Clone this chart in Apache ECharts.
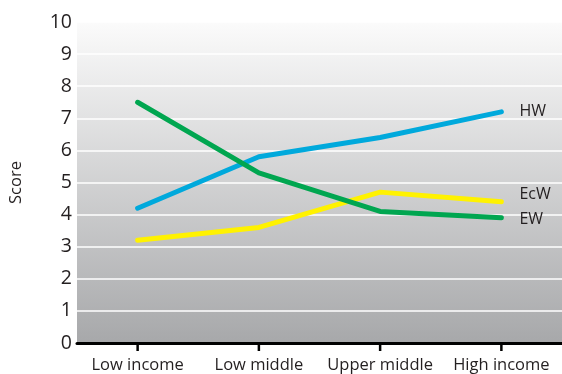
<!DOCTYPE html>
<html><head><meta charset="utf-8">
<script src="https://cdn.jsdelivr.net/npm/echarts@6/dist/echarts.min.js"></script>
<style>html,body{margin:0;padding:0;background:#fff}#c{width:562px;height:374px}</style>
</head><body><div id="c"></div>
<script>
var categories = ["Low income", "Low middle", "Upper middle", "High income"];
var hw = [4.2, 5.8, 6.4, 7.2];
var ecw = [3.2, 3.6, 4.7, 4.4];
var ew = [7.5, 5.3, 4.1, 3.9];
var yTicks = [0, 1, 2, 3, 4, 5, 6, 7, 8, 9, 10];

var font = "Open Sans";
var chart = echarts.init(document.getElementById('c'));
function ser(name, data, color, offY) {
  return {
    name: name, type: 'line', data: data, symbol: 'none',
    lineStyle: {color: color, width: 5, cap: 'round', join: 'round'},
    itemStyle: {color: color},
    endLabel: {show: true, formatter: name, color: '#231f20', fontFamily: font, fontSize: 16, offset: [10, offY]},
    z: 3
  };
}
chart.setOption({
  animation: false,
  grid: {left: 76, right: 0, top: 22, bottom: 31, show: true, borderWidth: 0,
    backgroundColor: new echarts.graphic.LinearGradient(0, 0, 0, 1, [
      {offset: 0, color: '#fbfbfb'}, {offset: 1, color: '#a7a8aa'}])},
  xAxis: {type: 'category', data: categories, boundaryGap: true,
    axisLine: {show: true, lineStyle: {color: '#000', width: 3}},
    axisTick: {show: false},
    axisLabel: {color: '#231f20', fontFamily: font, fontSize: 16.5, margin: 14, interval: 0}},
  yAxis: {type: 'value', min: 0, max: 10, interval: 1,
    name: 'Score', nameLocation: 'middle', nameGap: 52, nameRotate: 90,
    nameTextStyle: {color: '#231f20', fontFamily: font, fontSize: 16.5},
    axisLine: {show: false}, axisTick: {show: false},
    axisLabel: {color: '#231f20', fontFamily: font, fontSize: 19.5, margin: 5,
      formatter: function (v) { return yTicks.indexOf(v) >= 0 ? String(v) : ''; }},
    splitLine: {lineStyle: {color: '#ffffff', width: 1.5}}},
  series: [
    ser('HW', hw, '#00a9dc', 0),
    ser('EcW', ecw, '#fff200', -7),
    ser('EW', ew, '#00a650', 2)
  ]
});
// tick marks under each category, positioned through the axis scales
var y0 = chart.convertToPixel({yAxisIndex: 0}, 0);
var ticks = categories.map(function (c, i) {
  var x = chart.convertToPixel({xAxisIndex: 0}, i);
  return {type: 'rect', shape: {x: x - 1.25, y: y0, width: 2.5, height: 8},
    style: {fill: '#000'}, z: 100};
});
chart.setOption({graphic: {elements: ticks}});
</script></body></html>
